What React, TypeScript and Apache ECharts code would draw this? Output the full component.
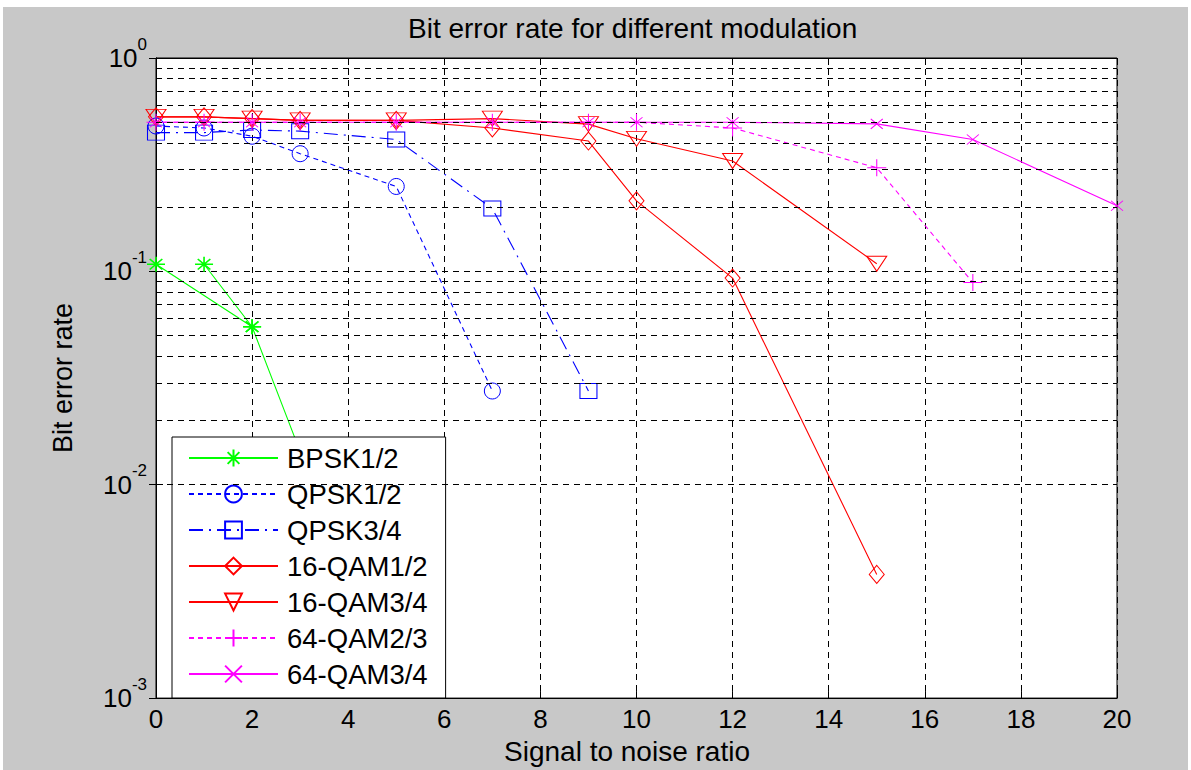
import React, { useEffect, useRef } from "react";
import * as echarts from "echarts";

// ---- data ----
const snr = [0, 1, 2, 3, 5, 7, 9, 10, 12, 15, 17, 20];
const bpskSnr = [0, 2, 1, 2, 3];
const bpskBer = [0.108, 0.055, 0.108, 0.055, 0.0143];
const qpsk12Ber = [0.48, 0.47, 0.43, 0.356, 0.25, 0.0275];
const qpsk34Ber = [0.447, 0.447, 0.46, 0.454, 0.415, 0.197, 0.0275];
const qam16r12Ber = [0.53, 0.53, 0.52, 0.51, 0.51, 0.47, 0.408, 0.214, 0.093, 0.0038];
const qam16r34Ber = [0.53, 0.53, 0.52, 0.51, 0.51, 0.52, 0.49, 0.418, 0.329, 0.1086];
const qam64r23Ber = [0.5, 0.5, 0.5, 0.5, 0.5, 0.5, 0.5, 0.5, 0.47, 0.306, 0.0886];
const qam64r34Ber = [0.5, 0.5, 0.5, 0.5, 0.5, 0.5, 0.5, 0.5, 0.5, 0.491, 0.415, 0.203];
const seriesNames = ["BPSK1/2", "QPSK1/2", "QPSK3/4", "16-QAM1/2", "16-QAM3/4", "64-QAM2/3", "64-QAM3/4"];
const decades = [0.001, 0.01, 0.1];
const minorMultipliers = [2, 3, 4, 5, 6, 7, 8, 9];
const titleText = "Bit error rate for different modulation";
const xName = "Signal to noise ratio";
const yName = "Bit error rate";

const FONT = "'Liberation Sans', Arial, Helvetica, sans-serif";
const GREEN = "#00ff00";
const BLUE = "#0000ff";
const RED = "#ff0000";
const MAGENTA = "#ff00ff";

const SYM_ASTERISK = "path://M5,0L5,10M0,5L10,5M1.5,1.5L8.5,8.5M1.5,8.5L8.5,1.5";
const SYM_PLUS = "path://M5,0L5,10M0,5L10,5";
const SYM_CROSS = "path://M0,0L10,10M0,10L10,0";
const SYM_TRI_DOWN = "path://M0,0L10,0L5,9Z";

const pair = (xs: number[], ys: number[]) => ys.map((y, i) => [xs[i], y]);

function mk(name: string, data: number[][], color: string, symbol: string, size: any, dash: any, bw = 1) {
  return {
    name,
    type: "line",
    data,
    symbol,
    symbolSize: size,
    showAllSymbol: true,
    lineStyle: { color, width: 1.1, type: dash },
    itemStyle: { color: "rgba(0,0,0,0)", borderColor: color, borderWidth: bw },
    emphasis: { disabled: true },
    z: 3,
  };
}

export default function App() {
  const ref = useRef<HTMLDivElement>(null);
  useEffect(() => {
    if (!ref.current) return;
    const chart = echarts.init(ref.current, undefined, { renderer: "svg" });
    const minorValues: number[] = [];
    decades.forEach((d) => minorMultipliers.forEach((m) => minorValues.push(+(d * m).toPrecision(3))));
    const dashed = [6, 5];
    const splitGrid = { color: "#000", type: dashed, width: 1 };
    const minorGrid = { color: "#000", type: dashed, width: 1.2 };

    const option: any = {
      animation: false,
      backgroundColor: "#c8c8c8",
      textStyle: { fontFamily: FONT, color: "#000" },
      title: {
        text: titleText,
        left: 405,
        top: 7,
        padding: 0,
        textStyle: { fontFamily: FONT, fontSize: 28, fontWeight: "normal", color: "#000", lineHeight: 28 },
      },
      grid: {
        left: 153,
        top: 51,
        right: 71,
        bottom: 68,
        show: true,
        backgroundColor: "#ffffff",
        borderColor: "#000",
        borderWidth: 1,
      },
      legend: {
        orient: "vertical",
        left: 169,
        top: 430,
        data: seriesNames,
        itemWidth: 89,
        itemHeight: 21,
        itemGap: 8,
        padding: [7, 18, 10, 16],
        backgroundColor: "#ffffff",
        borderColor: "#000",
        borderWidth: 1,
        borderRadius: 0,
        selectedMode: false,
        textStyle: { fontFamily: FONT, fontSize: 27.5, color: "#000", lineHeight: 27, padding: [0, 0, 0, 4] },
      },
      xAxis: [
        {
          type: "value",
          min: 0,
          max: 20,
          interval: 2,
          position: "bottom",
          name: xName,
          nameLocation: "middle",
          nameGap: 38,
          nameTextStyle: { fontFamily: FONT, fontSize: 28, color: "#000", padding: [0, 19, 0, 0] },
          axisLine: { show: true, lineStyle: { color: "#000", width: 1 } },
          axisTick: { show: true, inside: true, length: 7, lineStyle: { color: "#000" } },
          axisLabel: { fontFamily: FONT, fontSize: 26, color: "#000", margin: 8 },
          splitLine: { show: true, lineStyle: splitGrid },
        },
        {
          type: "value",
          min: 0,
          max: 20,
          interval: 2,
          position: "top",
          axisLine: { show: true, lineStyle: { color: "#000", width: 1 } },
          axisTick: { show: true, inside: true, length: 7, lineStyle: { color: "#000" } },
          axisLabel: { show: false },
          splitLine: { show: false },
        },
      ],
      yAxis: [
        {
          type: "log",
          logBase: 10,
          min: 0.001,
          max: 1,
          position: "left",
          name: yName,
          nameLocation: "middle",
          nameGap: 80,
          nameTextStyle: { fontFamily: FONT, fontSize: 27, color: "#000" },
          axisLine: { show: true, lineStyle: { color: "#000", width: 1 } },
          axisTick: { show: true, inside: true, length: 7, lineStyle: { color: "#000" } },
          axisLabel: {
            margin: 9,
            formatter: (v: number) => `{b|10}{s|${Math.round(Math.log10(v))}}`,
            rich: {
              b: { fontFamily: FONT, fontSize: 26, lineHeight: 26, color: "#000" },
              s: { fontFamily: FONT, fontSize: 17, lineHeight: 17, color: "#000", padding: [0, 0, 28, 0] },
            },
          },
          splitLine: { show: true, lineStyle: splitGrid },
        },
        {
          type: "log",
          logBase: 10,
          min: 0.001,
          max: 1,
          position: "right",
          axisLine: { show: true, lineStyle: { color: "#000", width: 1 } },
          axisTick: { show: true, inside: true, length: 7, lineStyle: { color: "#000" } },
          axisLabel: { show: false },
          splitLine: { show: false },
        },
      ],
      series: [
        {
          name: "minor-grid",
          type: "line",
          data: [],
          silent: true,
          z: 1,
          markLine: {
            silent: true,
            symbol: ["none", "none"],
            label: { show: false },
            emphasis: { disabled: true },
            lineStyle: minorGrid,
            data: minorValues.map((v) => ({ yAxis: v })),
          },
        },
        mk(seriesNames[0], pair(bpskSnr, bpskBer), GREEN, SYM_ASTERISK, [18, 15], "solid", 1.5),
        mk(seriesNames[1], pair(snr, qpsk12Ber), BLUE, "circle", 16, [5, 4]),
        mk(seriesNames[2], pair(snr, qpsk34Ber), BLUE, "rect", [17, 15], [14, 6, 2, 6]),
        mk(seriesNames[3], pair(snr, qam16r12Ber), RED, "diamond", [15, 18], "solid"),
        mk(seriesNames[4], pair(snr, qam16r34Ber), RED, SYM_TRI_DOWN, [20, 15], "solid"),
        mk(seriesNames[5], pair(snr, qam64r23Ber), MAGENTA, SYM_PLUS, [19, 17], [5, 4]),
        mk(seriesNames[6], pair(snr, qam64r34Ber), MAGENTA, SYM_CROSS, [12, 10], "solid"),
      ],
    };
    chart.setOption(option);
    return () => chart.dispose();
  }, []);

  return (
    <div style={{ position: "fixed", left: 0, top: 0, width: 1191, height: 770, background: "#ffffff" }}>
      <div ref={ref} style={{ position: "absolute", left: 3, top: 7, width: 1185, height: 763 }} />
    </div>
  );
}
